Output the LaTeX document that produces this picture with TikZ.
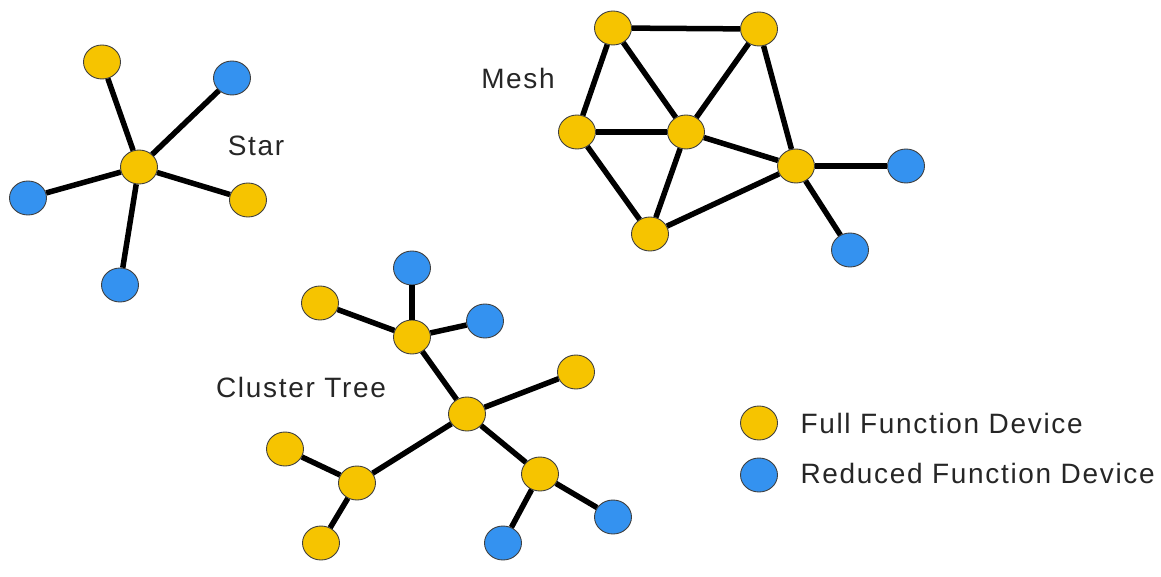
\documentclass[tikz,border=0pt]{standalone}
\usepackage{fontspec}
\setmainfont{Liberation Sans}
\usepackage{tikz}
\usetikzlibrary{shapes.geometric}

\definecolor{ffdyellow}{RGB}{246,196,0}
\definecolor{rfdblue}{RGB}{52,146,240}

\begin{document}
\begin{tikzpicture}[
    x=1pt, y=-1pt,
    dev/.style={ellipse, draw=black!75, line width=0.9pt, minimum width=37pt, minimum height=34pt, inner sep=0pt},
    ffd/.style={dev, fill=ffdyellow},
    rfd/.style={dev, fill=rfdblue},
    link/.style={line width=5.5pt, black},
    lbl/.style={font=\fontsize{28}{32}\selectfont\addfontfeatures{LetterSpace=6}, text=black!85}
]
    \useasboundingbox (0,0) rectangle (1161,577);

    % Star
    \node[ffd] (sc) at (139,167) {};
    \node[ffd] (s1) at (102,62) {};
    \node[rfd] (s2) at (232,78) {};
    \node[rfd] (s3) at (28,198) {};
    \node[ffd] (s4) at (248,200) {};
    \node[rfd] (s5) at (120,285) {};
    \foreach \n in {s1,s2,s3,s4,s5}
        \draw[link] (sc) -- (\n);
    \node[lbl] (star) at (256,146) {Star};

    % Mesh
    \node[ffd] (mtl) at (613,28) {};
    \node[ffd] (mtr) at (759,29) {};
    \node[ffd] (ml)  at (577,132) {};
    \node[ffd] (mc)  at (686,132) {};
    \node[ffd] (mr)  at (796,166) {};
    \node[ffd] (mb)  at (650,234) {};
    \node[rfd] (mbr) at (906,166) {};
    \node[rfd] (mbb) at (850,250) {};
    \draw[link] (mtl) -- (mtr);
    \draw[link] (mtl) -- (ml);
    \draw[link] (mtl) -- (mc);
    \draw[link] (mtr) -- (mc);
    \draw[link] (mtr) -- (mr);
    \draw[link] (ml) -- (mc);
    \draw[link] (ml) -- (mb);
    \draw[link] (mc) -- (mb);
    \draw[link] (mc) -- (mr);
    \draw[link] (mb) -- (mr);
    \draw[link] (mr) -- (mbr);
    \draw[link] (mr) -- (mbb);
    \node[lbl] (mesh) at (518,78) {Mesh};

    % Cluster tree
    \node[ffd] (tc)  at (467,414) {};
    \node[ffd] (th1) at (412,337) {};
    \node[rfd] (t1a) at (412,268) {};
    \node[ffd] (t1b) at (320,303) {};
    \node[rfd] (t1c) at (485,321) {};
    \node[ffd] (tr)  at (576,372) {};
    \node[ffd] (th2) at (357,483) {};
    \node[ffd] (t2a) at (285,449) {};
    \node[ffd] (t2b) at (321,543) {};
    \node[ffd] (th3) at (540,474) {};
    \node[rfd] (t3a) at (503,543) {};
    \node[rfd] (t3b) at (613,517) {};
    \draw[link] (th1) -- (t1a);
    \draw[link] (th1) -- (t1b);
    \draw[link] (th1) -- (t1c);
    \draw[link] (th1) -- (tc);
    \draw[link] (tc) -- (tr);
    \draw[link] (tc) -- (th2);
    \draw[link] (tc) -- (th3);
    \draw[link] (th2) -- (t2a);
    \draw[link] (th2) -- (t2b);
    \draw[link] (th3) -- (t3a);
    \draw[link] (th3) -- (t3b);
    \node[lbl] (tree) at (301,387) {Cluster Tree};

    % Legend
    \node[ffd] (kffd) at (759,423) {};
    \node[rfd] (krfd) at (759,475) {};
    \node[lbl, anchor=west] (tffd) at (797,423) {Full Function Device};
    \node[lbl, anchor=west] (trfd) at (797,473) {Reduced Function Device};

\end{tikzpicture}
\end{document}
